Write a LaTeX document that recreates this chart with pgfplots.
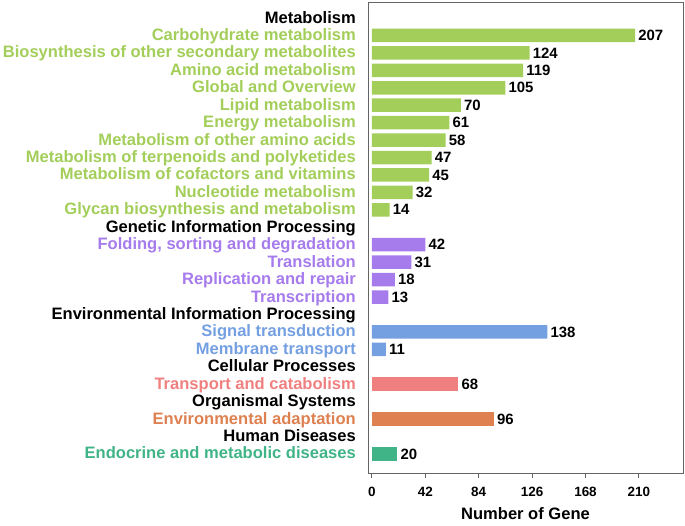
\documentclass[border=0pt]{standalone}
\usepackage{pgfplots}
\pgfplotsset{compat=1.18}
\usepackage{fontspec}
\setmainfont{Liberation Sans}
\definecolor{cg}{RGB}{163,206,90}
\definecolor{cp}{RGB}{166,123,236}
\definecolor{cb}{RGB}{116,160,226}
\definecolor{cr}{RGB}{240,128,128}
\definecolor{co}{RGB}{222,128,80}
\definecolor{ct}{RGB}{64,180,135}
\definecolor{fr}{RGB}{100,100,100}
\begin{document}
\begin{tikzpicture}
\begin{axis}[
  scale only axis, width=315bp, height=471bp,
  xbar, bar width=13.5bp, bar shift=0pt,
  xmin=-3.1, xmax=244.7, ymin=-1.09, ymax=25.92,
  axis line style={fr, line width=0.9pt},
  xtick={0,42,84,126,168,210},
  xtick pos=bottom, xtick align=outside, major tick length=5bp,
  tick style={fr, line width=0.9pt},
  xticklabel style={font=\fontsize{13.5}{14}\selectfont\bfseries, yshift=-6bp},
  /pgf/number format/assume math mode=true,
  xlabel={Number of Gene},
  xlabel style={font=\fontsize{16.6}{18}\selectfont\bfseries, yshift=-4bp},
  ytick={0,...,25}, ytick style={draw=none},
  yticklabel style={font=\fontsize{16.6}{18}\selectfont\bfseries, anchor=east, inner sep=0pt, text height=10bp, text depth=0bp, xshift=-7bp},
  yticklabels={
    {\textcolor{ct}{Endocrine and metabolic diseases}},
    {Human Diseases},
    {\textcolor{co}{Environmental adaptation}},
    {Organismal Systems},
    {\textcolor{cr}{Transport and catabolism}},
    {Cellular Processes},
    {\textcolor{cb}{Membrane transport}},
    {\textcolor{cb}{Signal transduction}},
    {Environmental Information Processing},
    {\textcolor{cp}{Transcription}},
    {\textcolor{cp}{Replication and repair}},
    {\textcolor{cp}{Translation}},
    {\textcolor{cp}{Folding, sorting and degradation}},
    {Genetic Information Processing},
    {\textcolor{cg}{Glycan biosynthesis and metabolism}},
    {\textcolor{cg}{Nucleotide metabolism}},
    {\textcolor{cg}{Metabolism of cofactors and vitamins}},
    {\textcolor{cg}{Metabolism of terpenoids and polyketides}},
    {\textcolor{cg}{Metabolism of other amino acids}},
    {\textcolor{cg}{Energy metabolism}},
    {\textcolor{cg}{Lipid metabolism}},
    {\textcolor{cg}{Global and Overview}},
    {\textcolor{cg}{Amino acid metabolism}},
    {\textcolor{cg}{Biosynthesis of other secondary metabolites}},
    {\textcolor{cg}{Carbohydrate metabolism}},
    {Metabolism}
  },
  nodes near coords, point meta=x,
  nodes near coords style={font=\fontsize{15}{16}\selectfont\bfseries, anchor=west, inner sep=0pt, xshift=3bp, black},
]
\addplot[fill=cg, draw=none] coordinates {(207,24) (124,23) (119,22) (105,21) (70,20) (61,19) (58,18) (47,17) (45,16) (32,15) (14,14)};
\addplot[fill=cp, draw=none] coordinates {(42,12) (31,11) (18,10) (13,9)};
\addplot[fill=cb, draw=none] coordinates {(138,7) (11,6)};
\addplot[fill=cr, draw=none] coordinates {(68,4)};
\addplot[fill=co, draw=none] coordinates {(96,2)};
\addplot[fill=ct, draw=none] coordinates {(20,0)};
\coordinate (sw) at (rel axis cs:0,0);
\coordinate (ne) at (rel axis cs:1,1);
\end{axis}
\pgfresetboundingbox
\useasboundingbox ([shift={(-368bp,-53bp)}]sw) rectangle ([shift={(2bp,2bp)}]ne);
\end{tikzpicture}
\end{document}
